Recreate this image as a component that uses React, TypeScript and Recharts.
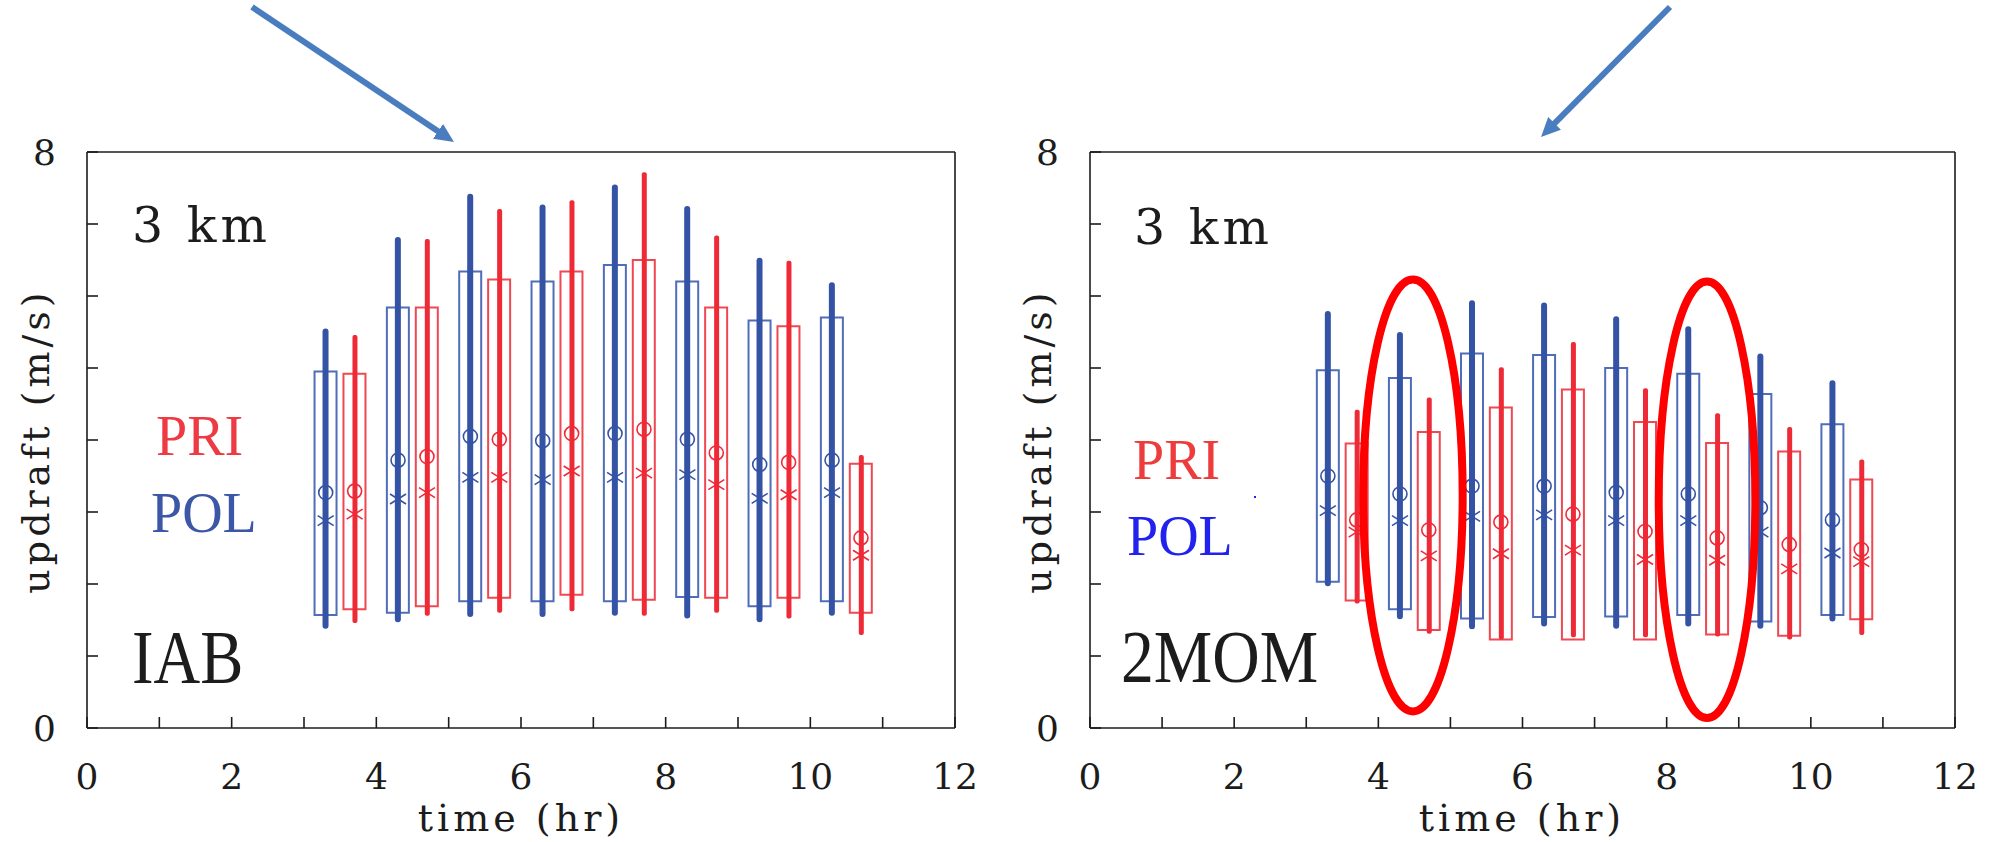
import React from "react";
import { ComposedChart, Bar, Scatter, XAxis, YAxis, ReferenceArea } from "recharts";

// hours at which the POL (blue) and PRI (red) boxes sit
const polTimes = [3.3, 4.3, 5.3, 6.3, 7.3, 8.3, 9.3, 10.3];
const priTimes = [3.7, 4.7, 5.7, 6.7, 7.7, 8.7, 9.7, 10.7];

// each entry: [whisker low, box low, median (*), mean (o), box high, whisker high]  (m/s)
const iabPol = [
  [1.38, 1.57, 2.88, 3.27, 4.95, 5.55],
  [1.47, 1.6, 3.18, 3.72, 5.84, 6.82],
  [1.54, 1.76, 3.48, 4.05, 6.34, 7.42],
  [1.54, 1.76, 3.45, 3.99, 6.2, 7.27],
  [1.56, 1.76, 3.48, 4.09, 6.43, 7.55],
  [1.52, 1.82, 3.52, 4.01, 6.2, 7.25],
  [1.47, 1.69, 3.19, 3.66, 5.66, 6.53],
  [1.56, 1.76, 3.27, 3.72, 5.7, 6.19],
];
const iabPri = [
  [1.46, 1.65, 2.97, 3.29, 4.92, 5.46],
  [1.56, 1.69, 3.27, 3.77, 5.84, 6.79],
  [1.6, 1.81, 3.48, 4.01, 6.23, 7.21],
  [1.62, 1.85, 3.57, 4.09, 6.34, 7.33],
  [1.56, 1.78, 3.54, 4.15, 6.5, 7.72],
  [1.6, 1.81, 3.38, 3.82, 5.84, 6.84],
  [1.52, 1.81, 3.24, 3.69, 5.58, 6.49],
  [1.29, 1.6, 2.4, 2.64, 3.67, 3.79],
];
const momPol = [
  [1.97, 2.03, 3.02, 3.5, 4.97, 5.79],
  [1.51, 1.65, 2.88, 3.25, 4.86, 5.5],
  [1.37, 1.52, 2.94, 3.36, 5.2, 5.94],
  [1.41, 1.54, 2.96, 3.36, 5.18, 5.91],
  [1.38, 1.55, 2.88, 3.27, 5.0, 5.72],
  [1.41, 1.57, 2.88, 3.25, 4.92, 5.58],
  [1.38, 1.48, 2.72, 3.06, 4.64, 5.2],
  [1.48, 1.57, 2.43, 2.89, 4.22, 4.83],
];
const momPri = [
  [1.73, 1.77, 2.72, 2.89, 3.95, 4.42],
  [1.31, 1.36, 2.39, 2.75, 4.11, 4.59],
  [1.23, 1.23, 2.42, 2.86, 4.45, 5.01],
  [1.26, 1.23, 2.47, 2.97, 4.7, 5.36],
  [1.26, 1.23, 2.34, 2.73, 4.25, 4.72],
  [1.27, 1.3, 2.33, 2.64, 3.96, 4.37],
  [1.23, 1.28, 2.21, 2.55, 3.84, 4.18],
  [1.29, 1.51, 2.31, 2.48, 3.45, 3.73],
];

const xTicks = [0, 1, 2, 3, 4, 5, 6, 7, 8, 9, 10, 11, 12];
const yTicks = [0, 1, 2, 3, 4, 5, 6, 7, 8];

// red rings drawn over the 2MOM panel: [x1, x2, y1, y2] in data units
const momRings = [
  [3.79, 5.17, 0.23, 6.23],
  [7.89, 9.23, 0.14, 6.2],
];

const BLUE = "#3553a5";
const BLUE_BOX = "#4f6db8";
const RED = "#ee2a36";
const RED_BOX = "#f04852";
const INK = "#1c1c1c";

function buildRows(pol: number[][], pri: number[][]) {
  return polTimes.map((tp, i) => ({
    tp,
    tr: priTimes[i],
    pol: pol[i],
    pri: pri[i],
    polMed: pol[i][2],
    polMean: pol[i][3],
    priMed: pri[i][2],
    priMean: pri[i][3],
  }));
}

const ring = (color: string) => (p: any) => (
  <circle cx={p.cx} cy={p.cy} r={7} fill="none" stroke={color} strokeWidth={1.6} />
);

const star = (color: string) => (p: any) => (
  <g stroke={color} strokeWidth={1.6}>
    <line x1={p.cx} y1={p.cy - 8} x2={p.cx} y2={p.cy + 8} />
    <line x1={p.cx - 8} y1={p.cy - 5} x2={p.cx + 8} y2={p.cy + 5} />
    <line x1={p.cx - 8} y1={p.cy + 5} x2={p.cx + 8} y2={p.cy - 5} />
  </g>
);

const ellipseShape = (p: any) => (
  <ellipse
    cx={p.x + p.width / 2}
    cy={p.y + p.height / 2}
    rx={p.width / 2}
    ry={p.height / 2}
    fill="none"
    stroke="#ff0000"
    strokeWidth={8}
  />
);

const tickFont = { fontFamily: "DejaVu Serif", fontSize: 36, fill: INK };
const line = { stroke: INK, strokeWidth: 1.6 };

function Panel({
  pol,
  pri,
  left,
  width,
  marginLeft,
  marginRight,
  rings = [],
}: {
  pol: number[][];
  pri: number[][];
  left: number;
  width: number;
  marginLeft: number;
  marginRight: number;
  rings?: number[][];
}) {
  const rows = buildRows(pol, pri);
  return (
    <div style={{ position: "absolute", left, top: 0 }}>
      <ComposedChart
        width={width}
        height={842}
        data={rows}
        margin={{ top: 151, right: marginRight, bottom: 54, left: marginLeft }}
      >
        <XAxis
          xAxisId="a_bottom"
          dataKey="tp"
          type="number"
          domain={[0, 12]}
          ticks={xTicks}
          interval={0}
          tickSize={-11}
          tickMargin={46}
          height={60}
          tick={tickFont}
          tickFormatter={(v) => (v % 2 === 0 ? String(v) : "")}
          axisLine={line}
          tickLine={line}
        />
        <XAxis
          xAxisId="a_top"
          orientation="top"
          dataKey="tp"
          type="number"
          domain={[0, 12]}
          ticks={xTicks}
          interval={0}
          tickSize={-11}
          height={1}
          tick={false}
          axisLine={line}
          tickLine={line}
        />
        <XAxis xAxisId="bb" dataKey="tp" type="number" domain={[0, 12]} ticks={xTicks} height={0} hide />
        <XAxis xAxisId="rb" dataKey="tr" type="number" domain={[0, 12]} ticks={xTicks} height={0} hide />
        <XAxis xAxisId="bw" dataKey="tp" type="number" domain={[0, 12]} ticks={xTicks} height={0} hide />
        <XAxis xAxisId="rw" dataKey="tr" type="number" domain={[0, 12]} ticks={xTicks} height={0} hide />
        <YAxis
          yAxisId="l"
          type="number"
          domain={[0, 8]}
          allowDataOverflow
          ticks={yTicks}
          interval={0}
          tickSize={-11}
          tickMargin={42}
          width={80}
          tick={tickFont}
          tickFormatter={(v) => (v === 0 || v === 8 ? String(v) : "")}
          axisLine={line}
          tickLine={line}
        />
        <YAxis
          yAxisId="r"
          orientation="right"
          type="number"
          domain={[0, 8]}
          allowDataOverflow
          ticks={yTicks}
          interval={0}
          tickSize={-11}
          width={1}
          tick={false}
          axisLine={line}
          tickLine={line}
        />

        <Bar
          xAxisId="bb"
          yAxisId="l"
          dataKey={(d: any) => [d.pol[1], d.pol[4]]}
          barSize={22}
          fill="none"
          stroke={BLUE_BOX}
          strokeWidth={2}
          isAnimationActive={false}
        />
        <Bar
          xAxisId="rb"
          yAxisId="l"
          dataKey={(d: any) => [d.pri[1], d.pri[4]]}
          barSize={22}
          fill="none"
          stroke={RED_BOX}
          strokeWidth={2}
          isAnimationActive={false}
        />
        <Bar
          xAxisId="bw"
          yAxisId="l"
          dataKey={(d: any) => [d.pol[0], d.pol[5]]}
          barSize={6}
          radius={3}
          fill={BLUE}
          isAnimationActive={false}
        />
        <Bar
          xAxisId="rw"
          yAxisId="l"
          dataKey={(d: any) => [d.pri[0], d.pri[5]]}
          barSize={5}
          radius={2}
          fill={RED}
          isAnimationActive={false}
        />

        <Scatter xAxisId="bb" yAxisId="l" data={rows} dataKey="polMean" shape={ring(BLUE)} isAnimationActive={false} />
        <Scatter xAxisId="bb" yAxisId="l" data={rows} dataKey="polMed" shape={star(BLUE)} isAnimationActive={false} />
        <Scatter xAxisId="rb" yAxisId="l" data={rows} dataKey="priMean" shape={ring(RED)} isAnimationActive={false} />
        <Scatter xAxisId="rb" yAxisId="l" data={rows} dataKey="priMed" shape={star(RED)} isAnimationActive={false} />

        {rings.map((r, i) => (
          <ReferenceArea
            key={i}
            xAxisId="a_bottom"
            yAxisId="l"
            x1={r[0]}
            x2={r[1]}
            y1={r[2]}
            y2={r[3]}
            shape={ellipseShape}
            zIndex={2000}
          />
        ))}
      </ComposedChart>
    </div>
  );
}

function Overlay() {
  const serif = "DejaVu Serif";
  const times = "Liberation Serif";
  return (
    <svg
      width={2003}
      height={842}
      style={{ position: "absolute", left: 0, top: 0, pointerEvents: "none" }}
    >
      <defs>
        <marker id="ah" markerWidth={3.2} markerHeight={3} refX={0.3} refY={1.5} orient="auto">
          <path d="M0,0 L3.2,1.5 L0,3 z" fill="#4a7dbf" />
        </marker>
      </defs>
      <line x1={252} y1={7} x2={439.5} y2={132.3} stroke="#4a7dbf" strokeWidth={6} markerEnd="url(#ah)" />
      <line x1={1670} y1={7} x2={1553.3} y2={124.6} stroke="#4a7dbf" strokeWidth={6} markerEnd="url(#ah)" />

      {/* left panel labels */}
      <text x={132} y={242} fontFamily={serif} fontSize={49} letterSpacing={4} fill={INK}>3 km</text>
      <text x={156} y={455} fontFamily={times} fontSize={56} fill="#ee3a43">PRI</text>
      <text x={151} y={532} fontFamily={times} fontSize={56} fill="#3b57a6">POL</text>
      <text transform="translate(132,683) scale(0.85,1)" fontFamily={times} fontSize={76} fill={INK}>IAB</text>
      <text transform="translate(49,441) rotate(-90)" textAnchor="middle" fontFamily={serif} fontSize={38} letterSpacing={4} fill={INK}>
        updraft (m/s)
      </text>
      <text x={521} y={831} textAnchor="middle" fontFamily={serif} fontSize={38} letterSpacing={4} fill={INK}>
        time (hr)
      </text>

      {/* right panel labels */}
      <text x={1134} y={244} fontFamily={serif} fontSize={49} letterSpacing={4} fill={INK}>3 km</text>
      <text x={1133} y={479} fontFamily={times} fontSize={56} fill="#ee3b3b">PRI</text>
      <text x={1127} y={555} fontFamily={times} fontSize={56} fill="#2222ee">POL</text>
      <text transform="translate(1121,682) scale(0.9,1)" fontFamily={times} fontSize={73} fill={INK}>2MOM</text>
      <rect x={1254} y={496} width={2} height={2} fill="#2222ee" />
      <text transform="translate(1051,441) rotate(-90)" textAnchor="middle" fontFamily={serif} fontSize={38} letterSpacing={4} fill={INK}>
        updraft (m/s)
      </text>
      <text x={1522} y={831} textAnchor="middle" fontFamily={serif} fontSize={38} letterSpacing={4} fill={INK}>
        time (hr)
      </text>
    </svg>
  );
}

export default function App() {
  return (
    <div style={{ position: "absolute", left: 0, top: 0, width: 2003, height: 842, background: "#fff" }}>
      <Panel pol={iabPol} pri={iabPri} left={0} width={1000} marginLeft={7} marginRight={44} />
      <Panel pol={momPol} pri={momPri} left={1000} width={1003} marginLeft={10} marginRight={47} rings={momRings} />
      <Overlay />
    </div>
  );
}
